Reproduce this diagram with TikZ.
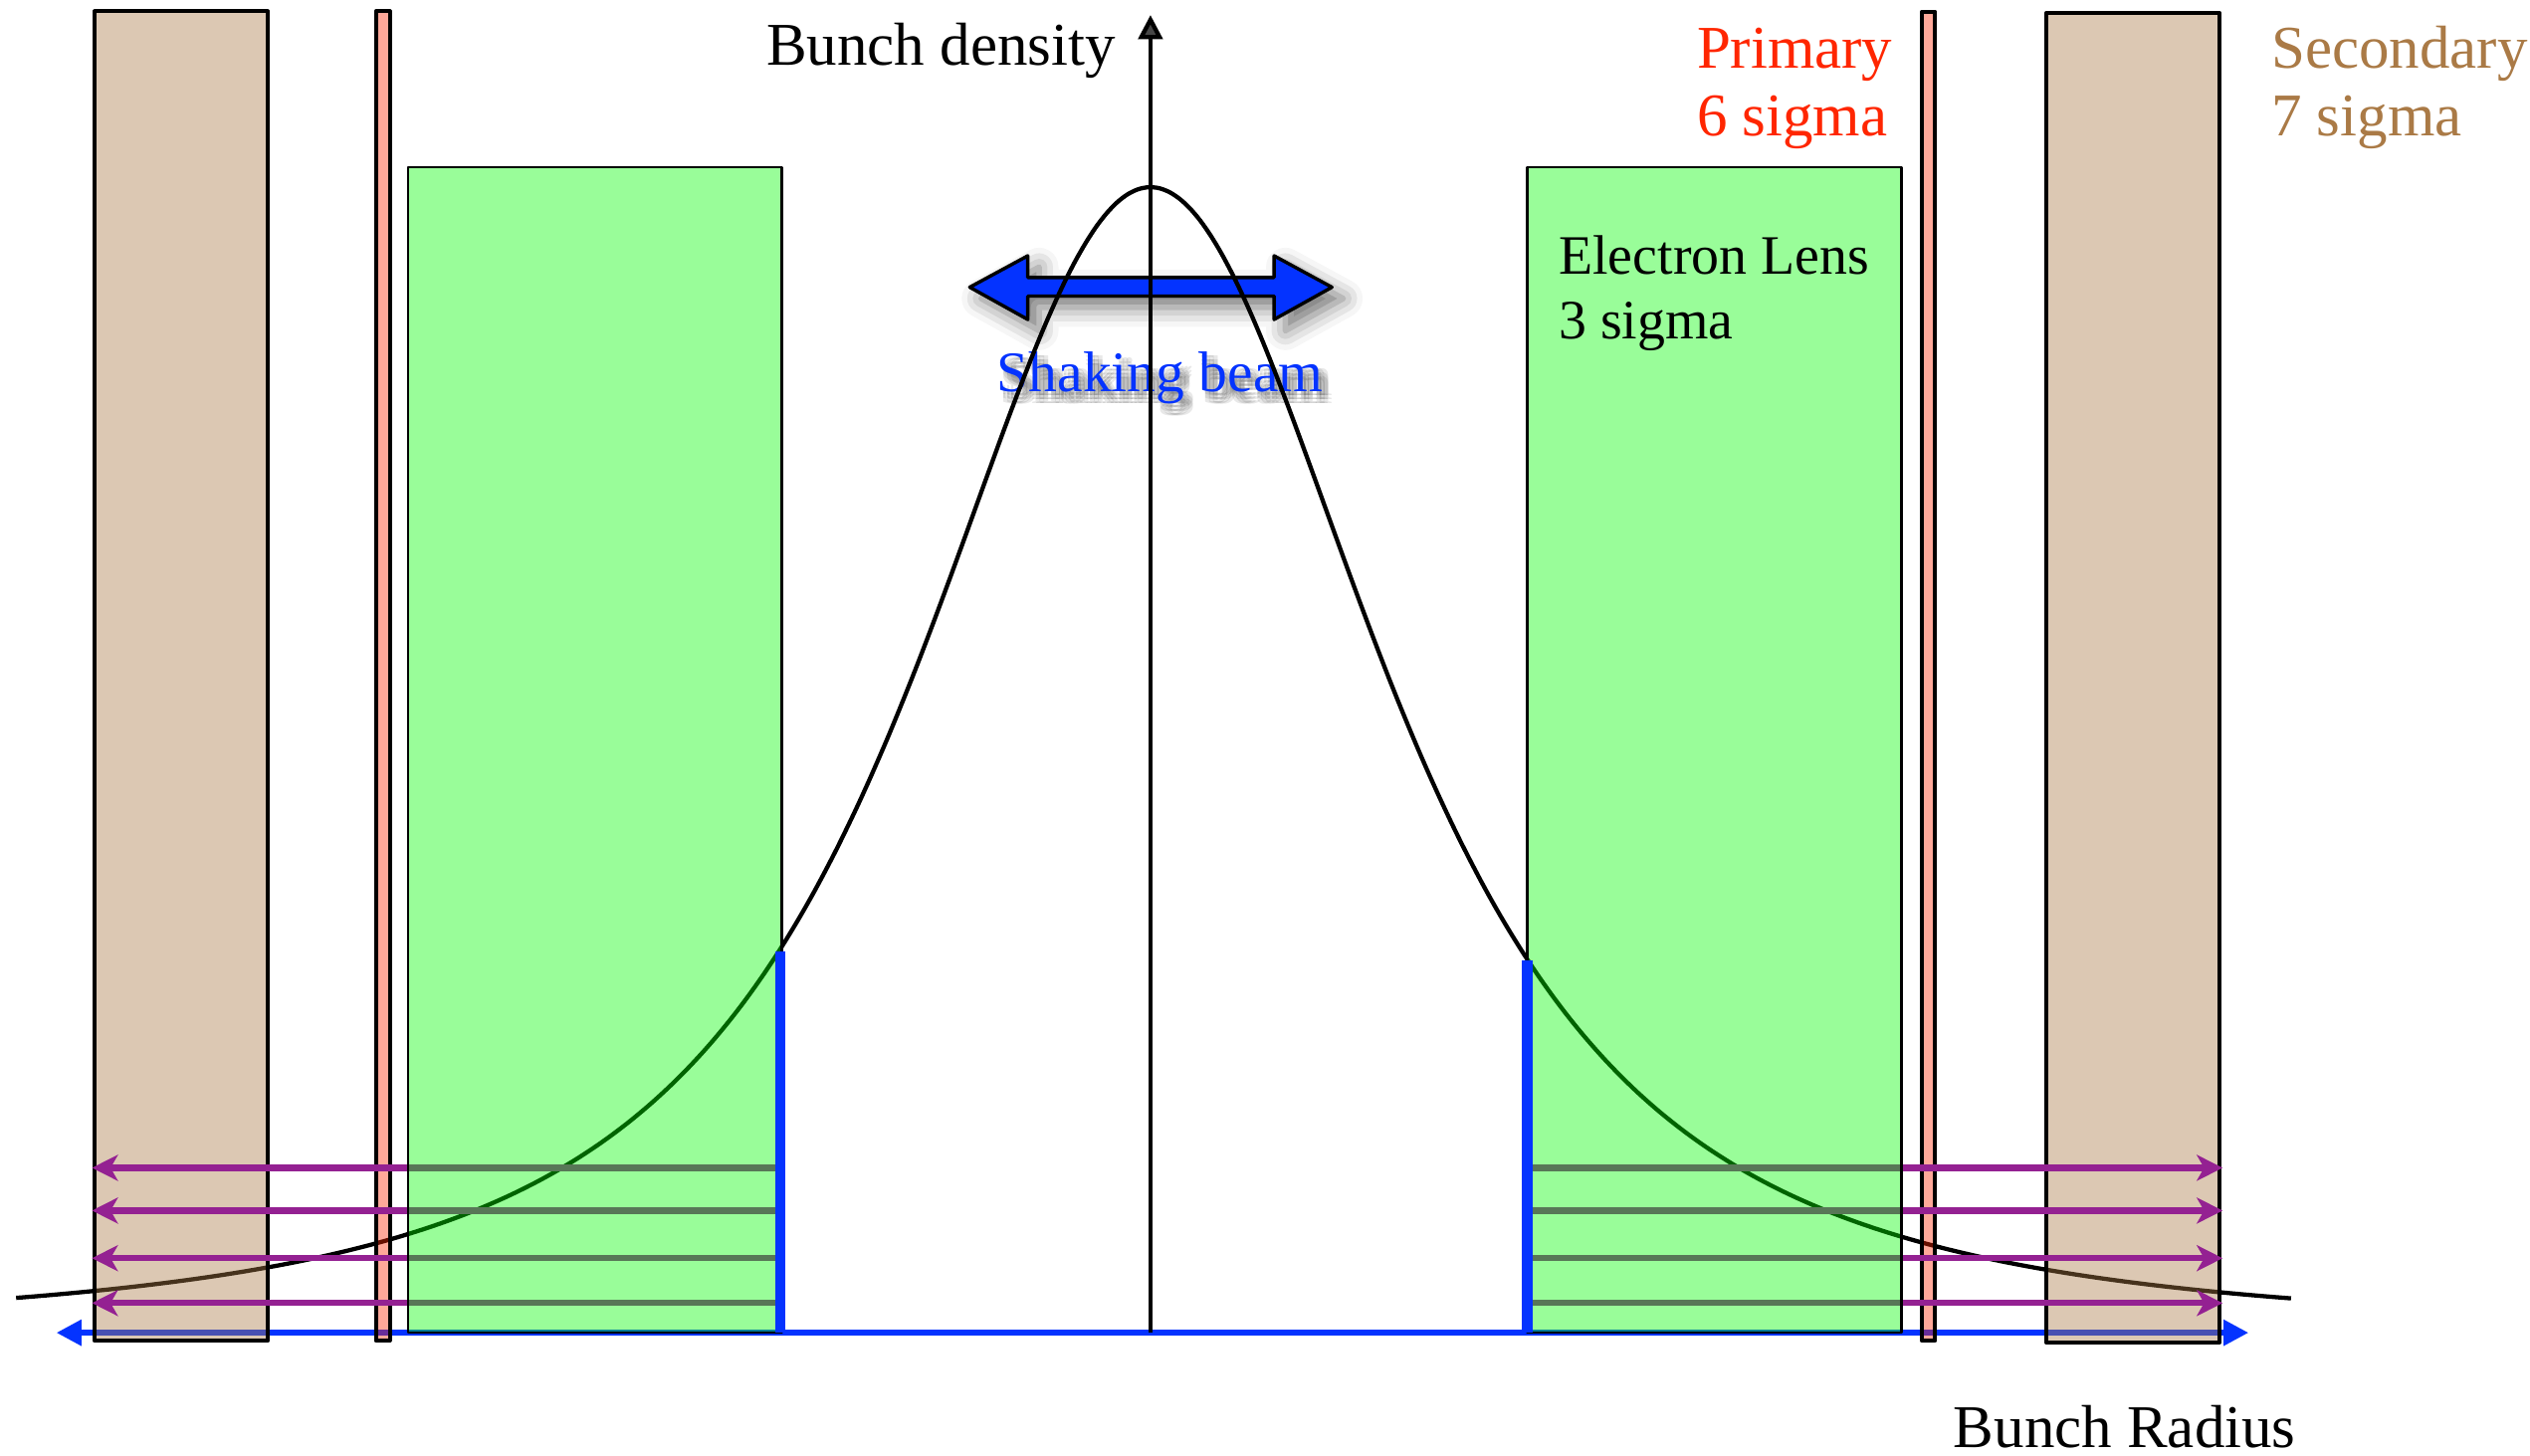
\documentclass[tikz,border=0pt]{standalone}
\usepackage{fontspec}
\setmainfont{Liberation Serif}
\usetikzlibrary{arrows.meta,shadows.blur}
\definecolor{beamblue}{RGB}{4,51,255}
\definecolor{plum}{RGB}{148,33,146}
\definecolor{primred}{RGB}{255,38,0}
\definecolor{secbrown}{RGB}{170,122,70}
\definecolor{lensgreen}{RGB}{0,249,0}
\tikzset{
	secondary/.style={draw=black, line width=0.7pt, fill=secbrown, fill opacity=0.41},
	primary/.style={draw=black, line width=0.7pt, fill=primred, fill opacity=0.4},
	lens/.style={draw=black, line width=0.45pt, fill=lensgreen, fill opacity=0.4},
	kick/.style={plum, line width=1.1pt, -{Stealth[length=1.6mm,width=1.6mm,inset=0.45mm]}},
	lensedge/.style={beamblue, line width=1.8pt}
}
\begin{document}
\begin{tikzpicture}[x=1cm,y=-1cm,font=\fontsize{10.7}{11.9}\selectfont, line join=round, every node/.style={inner sep=0pt}]
	\useasboundingbox (0,0) rectangle (15.68,9.02);
	\coordinate (O) at (7.13,8.26);
	\coordinate (T) at (7.13,0.093);
	\coordinate (L) at (0.35,8.26);
	\coordinate (R) at (13.935,8.26);
	% shaking beam
	\filldraw[fill=beamblue, draw=black, line width=0.6pt, blur shadow={shadow xshift=0.7mm, shadow yshift=-0.7mm, shadow blur radius=1.2mm, shadow opacity=55}]
		(6.01,1.78)--(6.37,1.585)--(6.37,1.72)--(7.896,1.72)--(7.896,1.585)--(8.255,1.78)--(7.896,1.98)--(7.896,1.835)--(6.37,1.835)--(6.37,1.98)--cycle;
	\foreach \dx/\dy [count=\i] in {0.4/-0.8,1.1/-0.8,1.8/-0.8,0.4/-1.5,1.1/-1.5,1.8/-1.5,0.4/-2.2,1.1/-2.2,1.8/-2.2}
		\node (sbshadow\i) [anchor=base, text=black, opacity=0.09, xshift=\dx pt, yshift=\dy pt, font=\fontsize{10.1}{11}\selectfont] at (7.19,2.426) {Shaking beam};
	\node (shaking) [anchor=base, text=beamblue, font=\fontsize{10.1}{11}\selectfont] at (7.19,2.426) {Shaking beam};
	% bunch profile and axes
	\draw[line width=0.75pt] plot[domain=0.10:14.20, samples=220, smooth] (\x,{8.26-7.10/(1+((\x-7.13)/2.108)^2)^1.4});
	\draw[beamblue, line width=1pt, {Triangle[length=1.55mm,width=1.55mm]}-{Triangle[length=1.55mm,width=1.55mm]}] (L)--(R);
	\draw[line width=0.75pt, -{Triangle[length=1.5mm,width=1.5mm]}] (O)--(T);
	% collimators
	\draw[secondary] (0.586,0.07) rectangle (1.66,8.31);
	\draw[secondary] (12.68,0.082) rectangle (13.757,8.32);
	\draw[primary] (2.33,0.07) rectangle (2.415,8.31);
	\draw[primary] (11.91,0.072) rectangle (11.993,8.31);
	\foreach \y in {7.238,7.503,7.798,8.076}{
		\draw[kick] (4.84,\y)--(0.57,\y);
		\draw[kick] (9.47,\y)--(13.775,\y);
	}
	% electron lens
	\draw[lens] (2.53,1.035) rectangle (4.845,8.26);
	\draw[lens] (9.465,1.035) rectangle (11.783,8.26);
	\draw[lensedge] (4.835,5.895)--(4.835,8.26);
	\draw[lensedge] (9.465,5.955)--(9.465,8.26);
	% labels
	\node (density) [anchor=base east] at (6.92,0.401) {Bunch density};
	\node (radius) [anchor=base east] at (14.235,8.97) {Bunch Radius};
	\node (prim) [text=primred, align=left, anchor=base west] at (10.51,0.84) {Primary\\6 sigma};
	\node (sec) [text=secbrown, align=left, anchor=base west] at (14.07,0.84) {Secondary\\7 sigma};
	\node (lenstext) [align=left, anchor=base west, font=\fontsize{9.8}{11.3}\selectfont] at (9.654,2.098) {Electron Lens\\3 sigma};
\end{tikzpicture}
\end{document}
